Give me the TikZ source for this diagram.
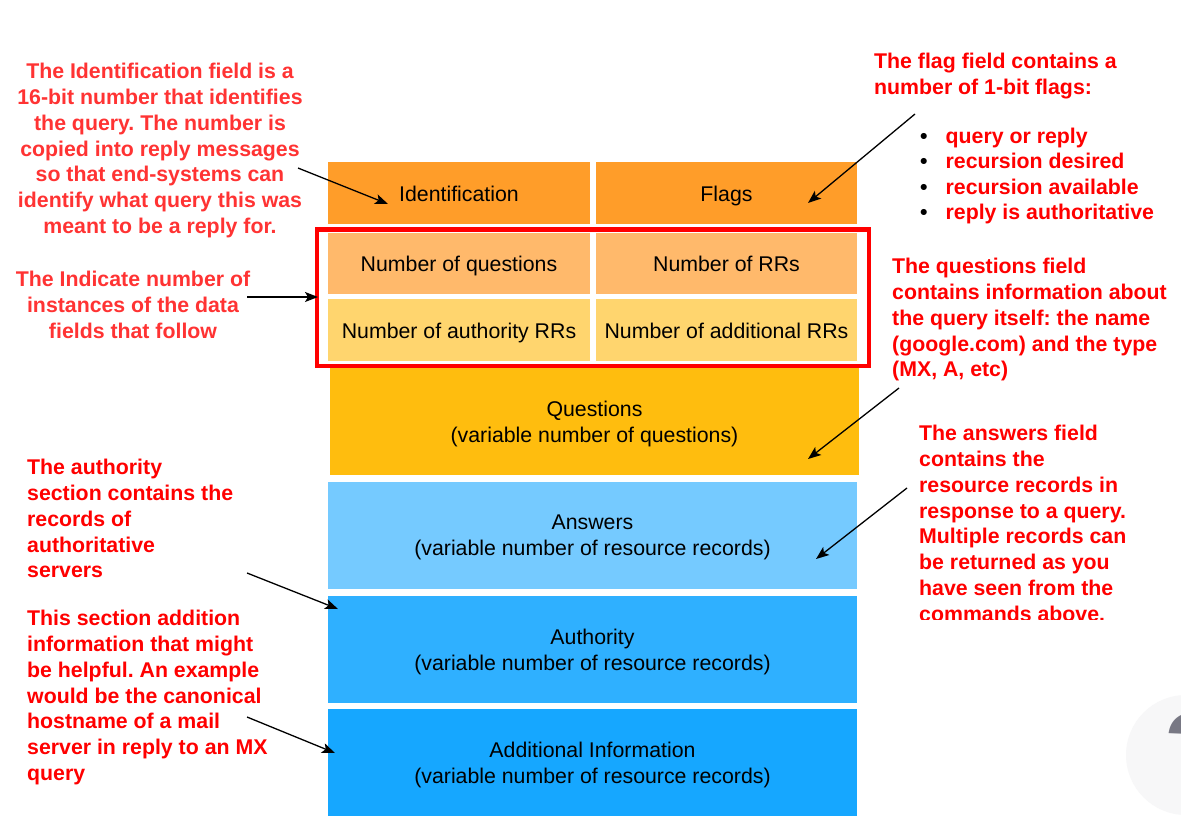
\documentclass[tikz,border=0pt]{standalone}
\usepackage{fontspec}
\setmainfont{Liberation Sans}
\usetikzlibrary{arrows.meta}
\frenchspacing
\definecolor{idorange}{RGB}{255,157,41}
\definecolor{cntorange}{RGB}{255,185,107}
\definecolor{cntyellow}{RGB}{255,213,110}
\definecolor{qgold}{RGB}{255,189,14}
\definecolor{ansblue}{RGB}{117,202,255}
\definecolor{authblue}{RGB}{47,176,255}
\definecolor{addblue}{RGB}{22,167,255}
\definecolor{notered}{RGB}{255,0,0}
\definecolor{notepink}{RGB}{255,51,51}
\definecolor{helpgray}{RGB}{247,247,248}
\definecolor{qmarkgray}{RGB}{120,120,132}
\begin{document}
\begin{tikzpicture}[x=1pt,y=-1pt,
  field/.style={fill=#1, inner sep=0pt, font=\fontsize{21.3}{26}\selectfont, align=center, text depth=0pt},
  halfbox/.style={minimum width=262pt, minimum height=62pt, text height=16pt},
  widebox/.style={minimum width=529pt, minimum height=107pt},
  note/.style={text=notered, font=\bfseries\fontsize{21.3}{25.8}\selectfont, inner sep=0pt, align=left, anchor=north west},
  cnote/.style={note, text=notepink, align=center, anchor=north},
  pointer/.style={-{Stealth[length=13pt,width=10pt,inset=3pt]}, line width=1.3pt, black}]
\useasboundingbox (0,0) rectangle (1181,838);
\fill[white] (0,0) rectangle (1181,838);

% help bubble
\begin{scope}
\clip (0,0) rectangle (1181,838);
\fill[helpgray] (1186,755) circle (60);
\node[text=qmarkgray, font=\bfseries\fontsize{100}{100}\selectfont, anchor=north west, inner sep=0pt] (help) at (1164,712) {?};
\end{scope}

% header fields
\node[field=idorange, halfbox] (ident) at (459,193) {Identification};
\node[field=idorange, halfbox, minimum width=261pt] (flags) at (726.5,193) {Flags};
\node[field=cntorange, halfbox, minimum height=61pt] (nq) at (459,263) {Number of questions};
\node[field=cntorange, halfbox, minimum width=261pt, minimum height=61pt] (nrr) at (726.5,263) {Number of RRs};
\node[field=cntyellow, halfbox] (nauth) at (459,330) {Number of authority RRs};
\node[field=cntyellow, halfbox, minimum width=261pt] (nadd) at (726.5,330) {Number of additional RRs};
\node[field=qgold, widebox] (quest) at (594.5,421.5) {Questions\\(variable number of questions)};
\node[field=ansblue, widebox] (answ) at (592.5,535.5) {Answers\\(variable number of resource records)};
\node[field=authblue, widebox] (auth) at (592.5,649.5) {Authority\\(variable number of resource records)};
\node[field=addblue, widebox] (addi) at (592.5,762.5) {Additional Information\\(variable number of resource records)};

% red frame around counts
\node[draw=red, line width=4.5pt, inner sep=0pt, minimum width=552pt, minimum height=136.5pt, outer sep=0pt] (frame) at (593,297.75) {};

% notes
\node[cnote] (idnote) at (160,63) {The Identification field is a\\16-bit number that identifies\\the query. The number is\\copied into reply messages\\so that end-systems can\\identify what query this was\\meant to be a reply for.};
\node[cnote] (cntnote) at (133,271) {The Indicate number of\\instances of the data\\fields that follow};
\node[note] (flagnote) at (874,53) {The flag field contains a\\number of 1-bit flags:};
\node[note, text=black, font=\fontsize{21.3}{25.3}\selectfont] (flaglist) at (920,128) {\textbf{\textbullet}\hspace{18pt}\textcolor{notered}{\bfseries query or reply}\\\textbf{\textbullet}\hspace{18pt}\textcolor{notered}{\bfseries recursion desired}\\\textbf{\textbullet}\hspace{18pt}\textcolor{notered}{\bfseries recursion available}\\\textbf{\textbullet}\hspace{18pt}\textcolor{notered}{\bfseries reply is authoritative}};
\node[note] (qnote) at (892,258) {The questions field\\contains information about\\the query itself: the name\\(google.com) and the type\\(MX, A, etc)};
\begin{scope}
\clip (900,410) rectangle (1181,619);
\node[note] (anote) at (919,425) {The answers field\\contains the\\resource records in\\response to a query.\\Multiple records can\\be returned as you\\have seen from the\\commands above.};
\end{scope}
\node[note] (authnote) at (27,459) {The authority\\section contains the\\records of\\authoritative\\servers};
\node[note] (addnote) at (27,610) {This section addition\\information that might\\be helpful. An example\\would be the canonical\\hostname of a mail\\server in reply to an MX\\query};

% pointers
\coordinate (idtail) at (298,168);
\coordinate (idtip) at (388,204);
\coordinate (fltail) at (915,114);
\coordinate (fltip) at (808,203);
\coordinate (cnttail) at (247,297);
\coordinate (cnttip) at (318,297);
\coordinate (qtail) at (899,388);
\coordinate (qtip) at (808,459);
\coordinate (atail) at (907,488);
\coordinate (atip) at (816,559);
\coordinate (authtail) at (247,573);
\coordinate (authtip) at (338,609);
\coordinate (addtail) at (247,717);
\coordinate (addtip) at (335,753);
\draw[pointer] (idtail) -- (idtip);
\draw[pointer] (fltail) -- (fltip);
\draw[pointer] (cnttail) -- (cnttip);
\draw[pointer] (qtail) -- (qtip);
\draw[pointer] (atail) -- (atip);
\draw[pointer] (authtail) -- (authtip);
\draw[pointer] (addtail) -- (addtip);
\end{tikzpicture}
\end{document}
